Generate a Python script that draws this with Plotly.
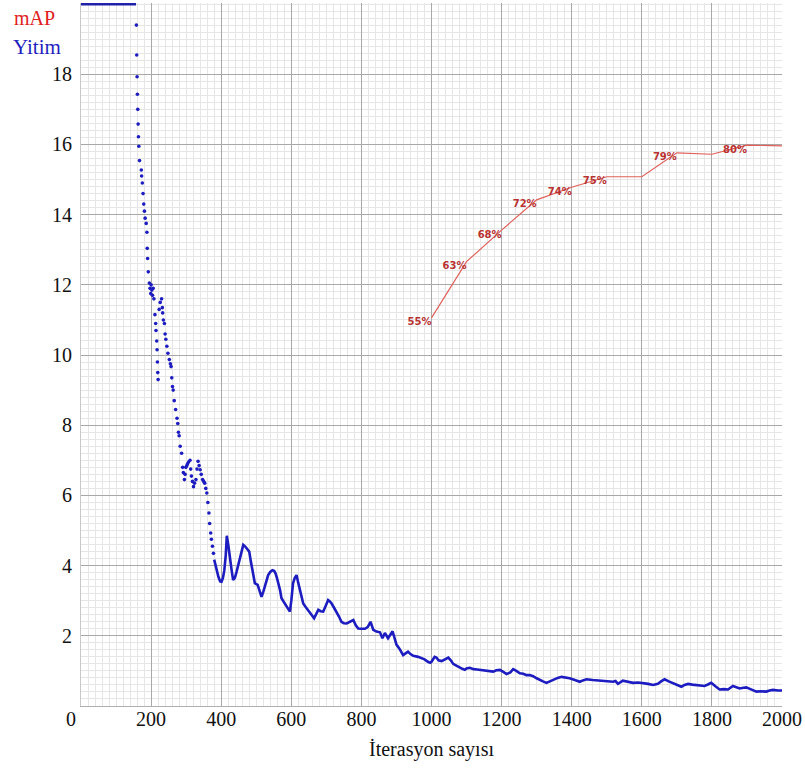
import plotly.graph_objects as go

# ---------------- data ----------------
# loss values above the chart top (clipped, drawn at the top edge = 20)
loss_clip_iters = [0, 157]
loss_clip_vals = [20, 20]

# early, sparse loss dots
loss_dot_iters = [158, 159, 160, 161, 162, 163, 164, 165, 167, 172, 173, 175, 177, 179, 181,
                  183, 186, 188, 189, 190, 192, 195, 197, 199, 200, 202, 204, 206, 208,
                  211, 213, 214, 216, 217, 218, 219, 220, 223, 226, 230, 232, 233, 235, 238,
                  240, 242, 245, 248, 252, 255, 257, 259, 261, 263, 266, 270, 274, 276, 278,
                  280, 283, 287, 290, 292, 295, 297, 299, 302, 304, 307, 311, 313, 315, 318,
                  321, 324, 328, 331, 334, 337, 340, 343, 347, 350, 353, 356, 359, 362, 365,
                  367, 370, 372, 375, 378]
loss_dot_vals = [19.4, 18.55, 17.93, 17.43, 17.0, 16.58, 16.22, 15.95, 15.54, 15.27, 15.1, 14.9,
                 14.6, 14.3, 14.1, 13.9, 13.75, 13.5, 13.04, 12.75, 12.37, 12.05, 11.9, 11.75,
                 12.0, 11.85, 11.7, 11.9, 11.6,
                 11.15, 10.9, 10.7, 10.4, 10.15, 9.8, 9.5, 9.3, 11.3, 11.5, 11.6, 11.35, 11.2,
                 11.0, 10.9, 10.6, 10.45, 10.25, 10.05, 9.87, 9.75, 9.67, 9.35, 9.1, 9.0, 8.7,
                 8.45, 8.2, 8.05, 7.8, 7.7, 7.4, 7.2, 6.8, 6.65, 6.45, 6.6, 6.8, 6.85, 6.9, 6.95,
                 7.0, 6.75, 6.55, 6.4, 6.25, 6.35, 6.45, 6.75, 6.97, 6.85, 6.73, 6.6, 6.45, 6.4,
                 6.35, 6.2, 6.07, 5.8, 5.5, 5.2, 4.93, 4.75, 4.55, 4.35]

# dense loss curve
loss_iters = [380, 386, 392, 397, 401, 405, 409, 413, 416, 420, 425, 430, 434, 439, 444, 448,
              453, 458, 463, 468, 473, 480, 484, 489, 496, 504, 509, 515, 520, 525, 530, 534,
              540, 546, 551, 555, 559, 563, 568, 572, 578, 584, 590, 596, 600, 605, 610, 615,
              620, 625, 630, 634, 641, 648, 656, 665, 671, 677, 684, 691, 698, 705, 710, 715,
              722, 729, 736, 743, 750, 758, 767, 777, 784, 791, 800, 810, 818, 826, 834, 843,
              853, 860, 867, 876, 889, 895, 900, 908, 919, 926, 933, 940, 948, 962, 971, 980,
              990, 996, 1000, 1009, 1014, 1020, 1029, 1038, 1048, 1055, 1062, 1067, 1075, 1081,
              1088, 1095, 1100, 1109, 1120, 1130, 1138, 1150, 1163, 1176, 1185, 1195, 1205,
              1214, 1225, 1233, 1242, 1252, 1262, 1271, 1280, 1290, 1300, 1309, 1318, 1328,
              1337, 1347, 1360, 1371, 1383, 1394, 1409, 1423, 1432, 1442, 1460, 1480, 1500,
              1518, 1525, 1532, 1546, 1560, 1575, 1590, 1603, 1618, 1632, 1646, 1655, 1665,
              1677, 1689, 1700, 1713, 1722, 1732, 1744, 1756, 1768, 1779, 1790, 1798, 1810,
              1822, 1834, 1846, 1860, 1870, 1879, 1890, 1898, 1910, 1927, 1940, 1955, 1965,
              1974, 1988, 2000]
loss_vals = [4.17, 3.9, 3.68, 3.55, 3.54, 3.65, 3.87, 4.3, 4.85, 4.6, 4.16, 3.85, 3.59, 3.65,
             3.83, 4.0, 4.25, 4.45, 4.59, 4.55, 4.49, 4.40, 4.15, 3.87, 3.50, 3.45, 3.3, 3.11,
             3.25, 3.40, 3.6, 3.73, 3.82, 3.87, 3.85, 3.78, 3.65, 3.50, 3.3, 3.07, 2.97, 2.88,
             2.8, 2.69, 3.0, 3.50, 3.65, 3.73, 3.5, 3.30, 3.1, 2.92, 2.82, 2.74, 2.62, 2.50,
             2.62, 2.74, 2.7, 2.69, 2.85, 3.02, 2.98, 2.92, 2.8, 2.69, 2.55, 2.40, 2.36, 2.35,
             2.4, 2.45, 2.3, 2.21, 2.2, 2.2, 2.25, 2.4, 2.17, 2.12, 2.1, 1.93, 2.08, 1.93, 2.13,
             1.95, 1.75, 1.64, 1.45, 1.5, 1.55, 1.48, 1.43, 1.40, 1.36, 1.33, 1.26, 1.23, 1.26,
             1.40, 1.38, 1.3, 1.28, 1.33, 1.38, 1.3, 1.2, 1.17, 1.12, 1.1, 1.06, 1.03, 1.07,
             1.09, 1.05, 1.04, 1.03, 1.02, 1.0, 0.98, 1.02, 1.03, 0.97, 0.91, 0.96, 1.05, 1.0,
             0.93, 0.92, 0.88, 0.88, 0.85, 0.79, 0.74, 0.7, 0.66, 0.7, 0.76, 0.8, 0.83, 0.81,
             0.79, 0.74, 0.69, 0.73, 0.76, 0.74, 0.72, 0.72, 0.69, 0.71, 0.63, 0.72, 0.69, 0.66,
             0.67, 0.66, 0.63, 0.60, 0.63, 0.7, 0.76, 0.7, 0.65, 0.6, 0.55, 0.6, 0.63, 0.61,
             0.60, 0.59, 0.57, 0.62, 0.66, 0.56, 0.47, 0.48, 0.47, 0.57, 0.53, 0.50, 0.52, 0.53,
             0.48, 0.41, 0.42, 0.41, 0.44, 0.46, 0.44, 0.44]

# mAP (%) evaluated every 100 iterations
map_iters = [1000, 1100, 1200, 1300, 1400, 1500, 1600, 1700, 1800, 1900, 2000]
map_vals = [55.3, 63.3, 67.8, 72.1, 73.9, 75.4, 75.4, 78.8, 78.6, 79.9, 79.8]

x_ticks = [0, 200, 400, 600, 800, 1000, 1200, 1400, 1600, 1800, 2000]
x_tick_labels = ["0", "200", "400", "600", "800", "1000", "1200", "1400", "1600", "1800", "2000"]
y_ticks = [2, 4, 6, 8, 10, 12, 14, 16, 18]

x_title = "İterasyon sayısı"
legend_map = "mAP"
legend_loss = "Yitim"

# ---------------- styling ----------------
BLUE = "#1c1cc0"
RED_LINE = "#e0605a"
RED_TXT = "#b83232"
SERIF = "Liberation Serif"

# labels only where the rounded mAP changes
map_text = []
prev = None
for v in map_vals:
    r = int(v + 0.5)
    map_text.append(f"{r}%" if r != prev else "")
    prev = r

# the "0" label in the reference sits left of the axis corner
x_tick_text = [t + "\u00a0\u00a0\u00a0\u00a0" if t == "0" else t for t in x_tick_labels]

fig = go.Figure()

fig.add_trace(go.Scatter(x=loss_clip_iters, y=loss_clip_vals, mode="lines",
                         line=dict(color="#2020a8", width=3), hoverinfo="skip"))
fig.add_trace(go.Scatter(x=loss_dot_iters, y=loss_dot_vals, mode="markers",
                         marker=dict(color=BLUE, size=3.6), hoverinfo="skip"))
fig.add_trace(go.Scatter(x=loss_iters, y=loss_vals, mode="lines",
                         line=dict(color=BLUE, width=2.6), hoverinfo="skip"))
fig.add_trace(go.Scatter(x=map_iters, y=map_vals, mode="lines+text", yaxis="y2",
                         text=map_text, textposition="bottom left",
                         textfont=dict(family="DejaVu Sans", size=10, color=RED_TXT,
                                       weight="bold"),
                         line=dict(color=RED_LINE, width=1.2), hoverinfo="skip"))

YTOP = 20.03

fig.update_layout(
    width=805, height=773,
    margin=dict(l=81, r=23, t=3, b=67),
    paper_bgcolor="white", plot_bgcolor="white",
    showlegend=False,
    font=dict(family=SERIF, size=20, color="#111"),
    xaxis=dict(
        range=[0, 2000], tickmode="array", tickvals=x_ticks,
        ticktext=x_tick_text,
        showgrid=True, gridcolor="#a8a8a8", gridwidth=1,
        minor=dict(tickmode="linear", tick0=0, dtick=20, showgrid=True,
                   gridcolor="#e6e6e6", gridwidth=1),
        zeroline=False, showline=True, linecolor="#b0b0b0", linewidth=1,
        ticks="", ticklabelstandoff=-5,
        tickfont=dict(family=SERIF, size=20, color="#111"),
        title=dict(text=x_title, font=dict(family=SERIF, size=20, color="#111"),
                   standoff=12),
    ),
    yaxis=dict(
        range=[0, YTOP], tickmode="array", tickvals=y_ticks,
        ticktext=[str(t) for t in y_ticks],
        showgrid=True, gridcolor="#a8a8a8", gridwidth=1,
        minor=dict(tickmode="linear", tick0=0, dtick=0.2, showgrid=True,
                   gridcolor="#e6e6e6", gridwidth=1),
        zeroline=False, showline=True, linecolor="#c8c8c8", linewidth=1,
        ticks="", ticklabelstandoff=4,
        tickfont=dict(family=SERIF, size=20, color="#111"),
    ),
    yaxis2=dict(range=[0, YTOP * 5], overlaying="y", visible=False),
    annotations=[
        dict(text=legend_map, xref="paper", yref="paper", x=-0.066, y=0.979,
             showarrow=False, xanchor="center", yanchor="middle",
             font=dict(family=SERIF, size=20, color="#e02020")),
        dict(text=legend_loss, xref="paper", yref="paper", x=-0.063, y=0.937,
             showarrow=False, xanchor="center", yanchor="middle",
             font=dict(family=SERIF, size=21, color="#1f1fc0")),
    ],
)

fig.write_html("out.html", config={"displayModeBar": False},
               post_script="document.body.style.margin='0';")
